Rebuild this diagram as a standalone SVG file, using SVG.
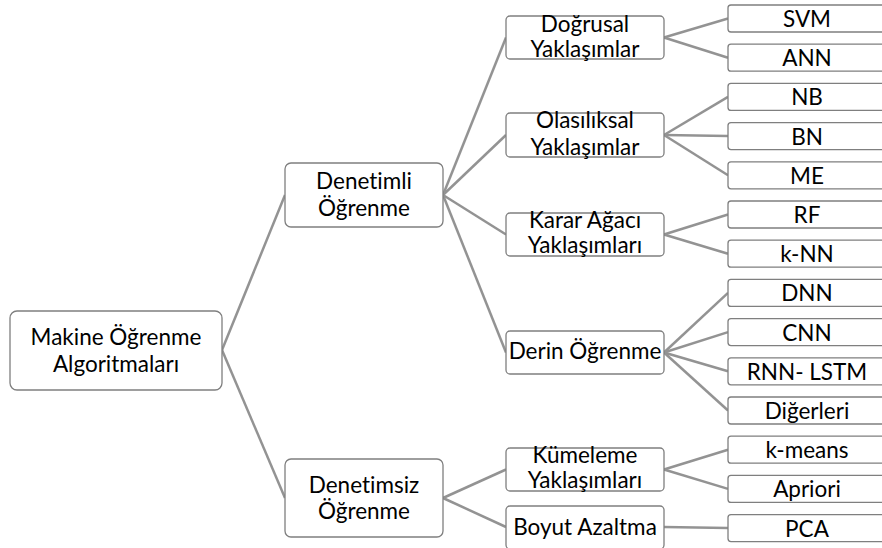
<svg xmlns="http://www.w3.org/2000/svg" width="882" height="548" viewBox="0 0 882 548">
<style>
  .box { fill: #ffffff; stroke: #7f7f7f; stroke-width: 1.3; }
  .t { font-family: Lato, "Liberation Sans", sans-serif; font-size: 22.5px; fill: #000000; text-anchor: middle; font-variant-ligatures: none; }
  .c line { stroke: #939393; stroke-width: 2.5; fill: none; }
</style>
<rect width="882" height="548" fill="#ffffff"/>
<g id="connectors" class="c">
  <line x1="222" y1="350" x2="285" y2="195"/>
  <line x1="222" y1="350" x2="285" y2="498"/>
  <line x1="443" y1="195" x2="506" y2="37.5"/>
  <line x1="443" y1="195" x2="506" y2="135"/>
  <line x1="443" y1="195" x2="506" y2="234.5"/>
  <line x1="443" y1="195" x2="506" y2="352.5"/>
  <line x1="443" y1="498" x2="506" y2="469.5"/>
  <line x1="443" y1="498" x2="506" y2="527"/>
  <line x1="664" y1="37.5" x2="728" y2="18.5"/>
  <line x1="664" y1="37.5" x2="728" y2="57.7"/>
  <line x1="664" y1="135" x2="728" y2="96.9"/>
  <line x1="664" y1="135" x2="728" y2="136.1"/>
  <line x1="664" y1="135" x2="728" y2="175.3"/>
  <line x1="664" y1="234.5" x2="728" y2="214.5"/>
  <line x1="664" y1="234.5" x2="728" y2="253.7"/>
  <line x1="664" y1="352.5" x2="728" y2="292.9"/>
  <line x1="664" y1="352.5" x2="728" y2="332.1"/>
  <line x1="664" y1="352.5" x2="728" y2="371.3"/>
  <line x1="664" y1="352.5" x2="728" y2="410.5"/>
  <line x1="664" y1="469.5" x2="728" y2="449.7"/>
  <line x1="664" y1="469.5" x2="728" y2="488.9"/>
  <line x1="664" y1="527" x2="728" y2="528.1"/>
</g>
<g id="root">
  <rect class="box" x="10" y="311" width="212" height="79" rx="7"/>
  <text class="t" x="116" y="345">Makine Öğrenme</text>
  <text class="t" x="116" y="372">Algoritmaları</text>
</g>
<g id="denetimli">
  <rect class="box" x="285" y="163" width="158" height="64" rx="6"/>
  <text class="t" x="364" y="189">Denetimli</text>
  <text class="t" x="364" y="216">Öğrenme</text>
</g>
<g id="denetimsiz">
  <rect class="box" x="285" y="459" width="158" height="78" rx="6"/>
  <text class="t" x="364" y="493">Denetimsiz</text>
  <text class="t" x="364" y="519">Öğrenme</text>
</g>
<g id="dogrusal">
  <rect class="box" x="506" y="16" width="158" height="43" rx="4"/>
  <text class="t" x="585" y="32">Doğrusal</text>
  <text class="t" x="585" y="57">Yaklaşımlar</text>
</g>
<g id="olasiliksal">
  <rect class="box" x="506" y="113" width="158" height="44" rx="4"/>
  <text class="t" x="585" y="128">Olasılıksal</text>
  <text class="t" x="585" y="155">Yaklaşımlar</text>
</g>
<g id="karar">
  <rect class="box" x="506" y="213" width="158" height="43" rx="4"/>
  <text class="t" x="585" y="228">Karar Ağacı</text>
  <text class="t" x="585" y="253">Yaklaşımları</text>
</g>
<g id="derin">
  <rect class="box" x="506" y="331" width="158" height="43" rx="4"/>
  <text class="t" x="585" y="359">Derin Öğrenme</text>
</g>
<g id="kumeleme">
  <rect class="box" x="506" y="448" width="158" height="43" rx="4"/>
  <text class="t" x="585" y="463">Kümeleme</text>
  <text class="t" x="585" y="488">Yaklaşımları</text>
</g>
<g id="boyut">
  <rect class="box" x="506" y="506" width="158" height="43" rx="4"/>
  <text class="t" x="585" y="535">Boyut Azaltma</text>
</g>
<g id="svm"><rect class="box" x="728" y="5" width="158" height="27" rx="3"/><text class="t" x="807" y="27">SVM</text></g>
<g id="ann"><rect class="box" x="728" y="44.2" width="158" height="27" rx="3"/><text class="t" x="807" y="66.2">ANN</text></g>
<g id="nb"><rect class="box" x="728" y="83.4" width="158" height="27" rx="3"/><text class="t" x="807" y="105.4">NB</text></g>
<g id="bn"><rect class="box" x="728" y="122.6" width="158" height="27" rx="3"/><text class="t" x="807" y="144.6">BN</text></g>
<g id="me"><rect class="box" x="728" y="161.8" width="158" height="27" rx="3"/><text class="t" x="807" y="183.8">ME</text></g>
<g id="rf"><rect class="box" x="728" y="201" width="158" height="27" rx="3"/><text class="t" x="807" y="223">RF</text></g>
<g id="knn"><rect class="box" x="728" y="240.2" width="158" height="27" rx="3"/><text class="t" x="807" y="262.2">k-NN</text></g>
<g id="dnn"><rect class="box" x="728" y="279.4" width="158" height="27" rx="3"/><text class="t" x="807" y="301.4">DNN</text></g>
<g id="cnn"><rect class="box" x="728" y="318.6" width="158" height="27" rx="3"/><text class="t" x="807" y="340.6">CNN</text></g>
<g id="rnn"><rect class="box" x="728" y="357.8" width="158" height="27" rx="3"/><text class="t" x="807" y="379.8">RNN- LSTM</text></g>
<g id="digerleri"><rect class="box" x="728" y="397" width="158" height="27" rx="3"/><text class="t" x="807" y="419">Diğerleri</text></g>
<g id="kmeans"><rect class="box" x="728" y="436.2" width="158" height="27" rx="3"/><text class="t" x="807" y="458.2">k-means</text></g>
<g id="apriori"><rect class="box" x="728" y="475.4" width="158" height="27" rx="3"/><text class="t" x="807" y="497.4">Apriori</text></g>
<g id="pca"><rect class="box" x="728" y="514.6" width="158" height="27" rx="3"/><text class="t" x="807" y="536.6">PCA</text></g>
</svg>
